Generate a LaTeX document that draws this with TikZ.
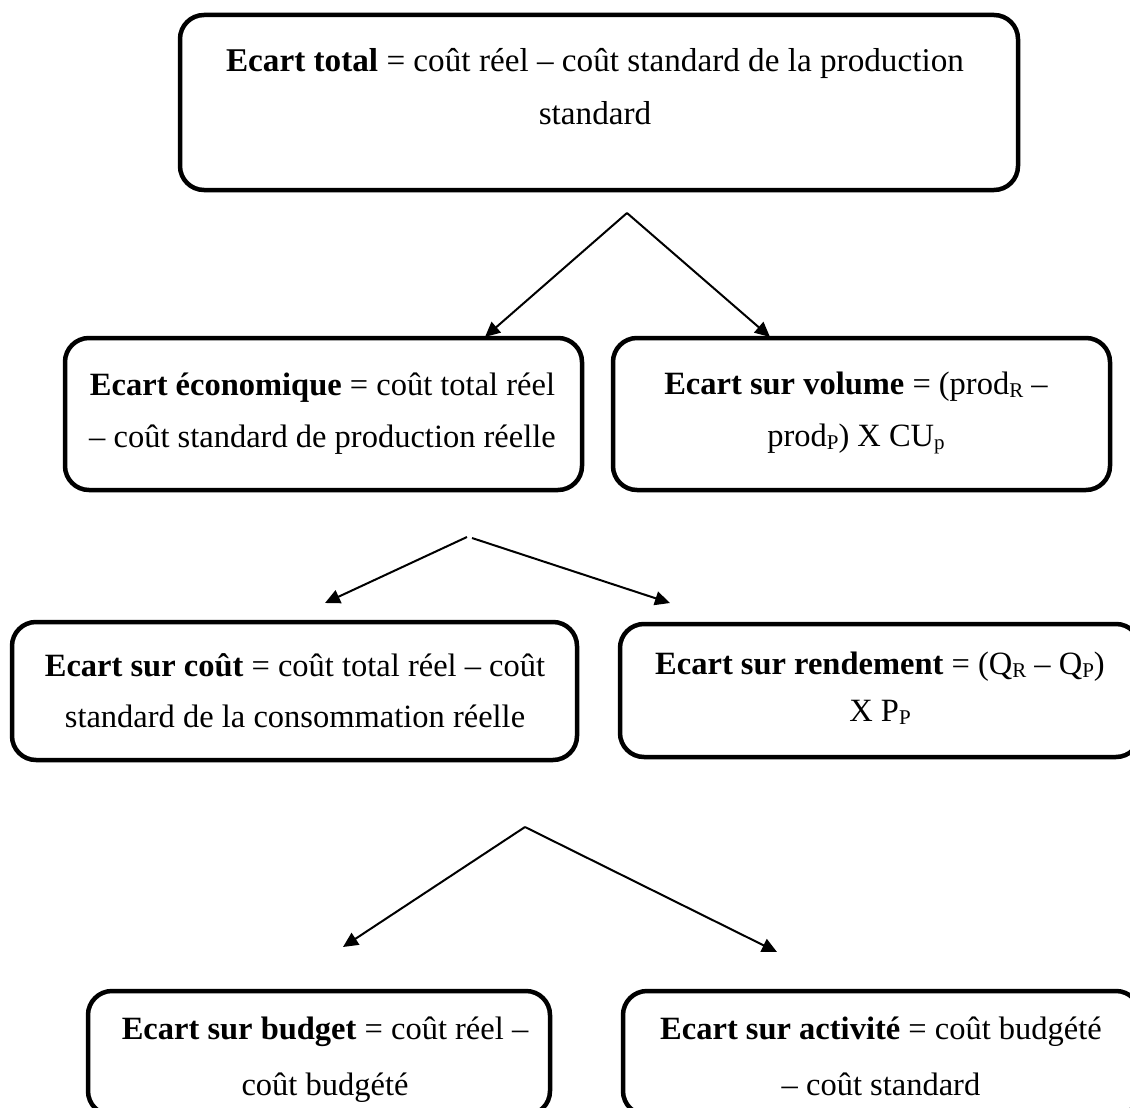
\documentclass[tikz,border=0pt]{standalone}
\usepackage{fontspec}
\setmainfont{Liberation Serif}
\usetikzlibrary{arrows.meta}

% two centred lines; the baseline of the whole box is that of the first line
\newcommand{\boxlines}[3]{\vtop{\baselineskip=#3\lineskiplimit=-100pt\lineskip=0pt
  \halign{\hfil##\hfil\cr#1\cr#2\cr}}}
% small, slightly lowered index letter
\newcommand{\idx}[1]{\raisebox{-0.1em}{\fontsize{21pt}{21pt}\selectfont#1}}

\begin{document}
\begin{tikzpicture}[x=1pt,y=-1pt,
  box/.style={draw, line width=4.5pt, rounded corners=24pt, inner sep=0pt},
  txt/.style={inner sep=0pt, anchor=base, font=\fontsize{32.5pt}{40pt}\selectfont},
  arr/.style={line width=2pt, -{Triangle[length=15pt,width=14pt]}}]

\useasboundingbox (0,0) rectangle (1130,1108);
\clip (0,0) rectangle (1130,1108);

% frames
\node[box, minimum width=838pt, minimum height=175pt] (total)  at (599,102.5) {};
\node[box, minimum width=517pt, minimum height=152pt] (econ)   at (323.5,414) {};
\node[box, minimum width=497pt, minimum height=152pt] (volume) at (861.5,414) {};
\node[box, minimum width=565pt, minimum height=138pt] (cout)   at (294.5,691) {};
\node[box, minimum width=520pt, minimum height=133pt] (rend)   at (880,690.5) {};
\node[box, minimum width=462pt, minimum height=124pt] (budget) at (319,1053) {};
\node[box, minimum width=517pt, minimum height=124pt] (activ)  at (881.5,1053) {};

% texts
\node[txt, font=\fontsize{33.2pt}{40pt}\selectfont] (totalT) at (595,71)
  {\boxlines{\textbf{Ecart total} = coût réel – coût standard de la production}{standard}{53pt}};
\node[txt] (econT) at (322.5,395)
  {\boxlines{\textbf{Ecart économique} = coût total réel}{– coût standard de production réelle}{52pt}};
\node[txt] (volumeT) at (856,394)
  {\boxlines{\textbf{Ecart sur volume} = (prod\idx{R} –}{prod\idx{P}) X CU\idx{p}}{52pt}};
\node[txt] (coutT) at (295,676)
  {\boxlines{\textbf{Ecart sur coût} = coût total réel – coût}{standard de la consommation réelle}{51pt}};
\node[txt] (rendT) at (880,674)
  {\boxlines{\textbf{Ecart sur rendement} = (Q\idx{R} – Q\idx{P})}{X P\idx{P}}{47pt}};
\node[txt] (budgetT) at (325,1039)
  {\boxlines{\textbf{Ecart sur budget} = coût réel –}{coût budgété}{56pt}};
\node[txt] (activT) at (881,1039)
  {\boxlines{\textbf{Ecart sur activité} = coût budgété}{– coût standard}{56pt}};

% connector ends
\coordinate (split1) at (627,213);
\coordinate (toEcon) at (485,337);
\coordinate (toVol) at (770,337);
\coordinate (split2l) at (467,537);
\coordinate (split2r) at (472,538);
\coordinate (toCout) at (325,603);
\coordinate (toRend) at (670,603);
\coordinate (split3) at (525,827);
\coordinate (toBudget) at (343,947);
\coordinate (toActiv) at (777,952);

\draw[arr] (split1) -- (toEcon);
\draw[arr] (split1) -- (toVol);
\draw[arr] (split2l) -- (toCout);
\draw[arr] (split2r) -- (toRend);
\draw[arr] (split3) -- (toBudget);
\draw[arr] (split3) -- (toActiv);
\end{tikzpicture}
\end{document}
